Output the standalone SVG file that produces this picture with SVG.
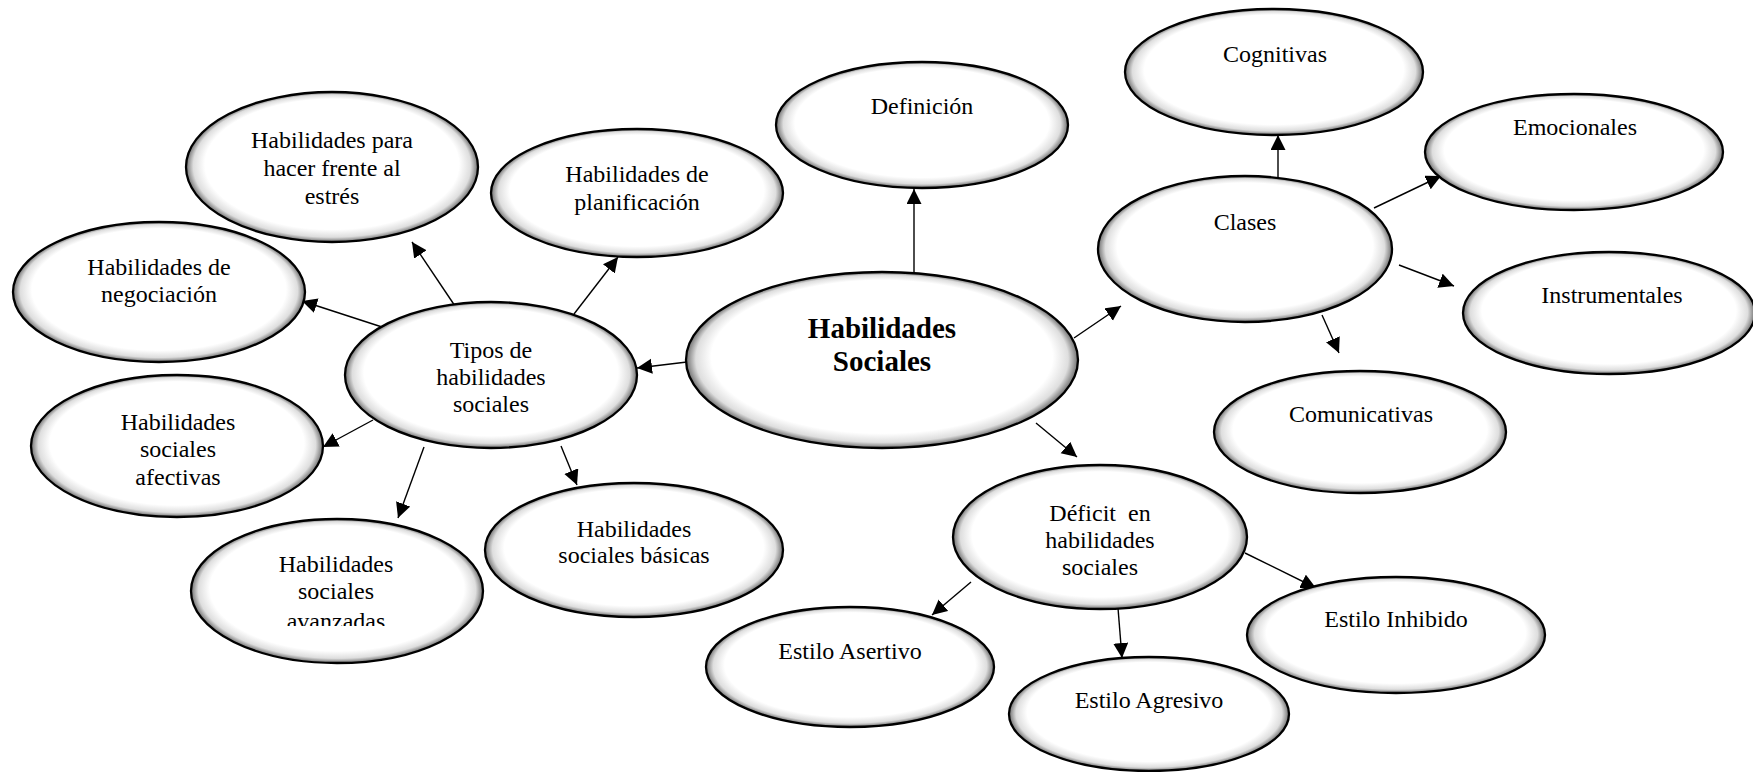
<svg xmlns="http://www.w3.org/2000/svg" width="1753" height="772" viewBox="0 0 1753 772">
<style>
.n{fill:url(#shade);stroke:#000;stroke-width:2.3}
.t{font-family:"Liberation Serif","Times New Roman",serif;font-size:24px;fill:#000;text-anchor:middle;white-space:pre}
.b{font-family:"Liberation Serif","Times New Roman",serif;font-size:29px;font-weight:bold;fill:#000;text-anchor:middle}
.c line{stroke:#000;stroke-width:1.4;marker-end:url(#arr)}
</style>
<defs>
<radialGradient id="shade" cx="50%" cy="50%" r="50%" fx="50%" fy="36%">
<stop offset="0" stop-color="#fff"/>
<stop offset="0.87" stop-color="#fff"/>
<stop offset="0.95" stop-color="#dedede"/>
<stop offset="1" stop-color="#707070"/>
</radialGradient>
<marker id="arr" markerUnits="userSpaceOnUse" markerWidth="16" markerHeight="16" viewBox="0 0 16 16" refX="15" refY="7.5" orient="auto">
<path d="M0,0 L15,7.5 L0,15 z" fill="#000"/>
</marker>
<clipPath id="clipAv"><rect x="180" y="500" width="320" height="126"/></clipPath>
</defs>
<rect width="1753" height="772" fill="#fff"/>
<g id="connectors" class="c">
<line x1="914" y1="273" x2="914" y2="189"/>
<line x1="687" y1="362" x2="637" y2="368"/>
<line x1="455" y1="306" x2="412" y2="242"/>
<line x1="574" y1="314" x2="618" y2="257"/>
<line x1="382" y1="327" x2="302" y2="301"/>
<line x1="373" y1="420" x2="323" y2="447"/>
<line x1="424" y1="447" x2="398" y2="518"/>
<line x1="561" y1="446" x2="577" y2="485"/>
<line x1="1074" y1="338" x2="1121" y2="306"/>
<line x1="1036" y1="423" x2="1077" y2="457"/>
<line x1="1278" y1="177" x2="1278" y2="135"/>
<line x1="1374" y1="208" x2="1441" y2="176"/>
<line x1="1399" y1="265" x2="1454" y2="286"/>
<line x1="1322" y1="315" x2="1339" y2="353"/>
<line x1="971" y1="582" x2="932" y2="615"/>
<line x1="1118" y1="608" x2="1122" y2="658"/>
<line x1="1245" y1="553" x2="1316" y2="588"/>
</g>
<g id="hs"><ellipse class="n" cx="882" cy="360" rx="196" ry="88"/><text class="b" x="882" y="338">Habilidades</text><text class="b" x="882" y="371">Sociales</text></g>
<g id="definicion"><ellipse class="n" cx="922" cy="125" rx="146" ry="63"/><text class="t" x="922" y="114">Definición</text></g>
<g id="tipos"><ellipse class="n" cx="491" cy="375" rx="146" ry="73"/><text class="t" x="491" y="358">Tipos de</text><text class="t" x="491" y="385">habilidades</text><text class="t" x="491" y="412">sociales</text></g>
<g id="estres"><ellipse class="n" cx="332" cy="167" rx="146" ry="75"/><text class="t" x="332" y="148">Habilidades para</text><text class="t" x="332" y="176">hacer frente al</text><text class="t" x="332" y="204">estrés</text></g>
<g id="planificacion"><ellipse class="n" cx="637" cy="193" rx="146" ry="64"/><text class="t" x="637" y="182">Habilidades de</text><text class="t" x="637" y="210">planificación</text></g>
<g id="negociacion"><ellipse class="n" cx="159" cy="292" rx="146" ry="70"/><text class="t" x="159" y="275">Habilidades de</text><text class="t" x="159" y="302">negociación</text></g>
<g id="afectivas"><ellipse class="n" cx="177" cy="446" rx="146" ry="71"/><text class="t" x="178" y="430">Habilidades</text><text class="t" x="178" y="457">sociales</text><text class="t" x="178" y="485">afectivas</text></g>
<g id="avanzadas"><ellipse class="n" cx="337" cy="591" rx="146" ry="72"/><text class="t" x="336" y="572">Habilidades</text><text class="t" x="336" y="599">sociales</text><text class="t" x="336" y="629" clip-path="url(#clipAv)">avanzadas</text></g>
<g id="basicas"><ellipse class="n" cx="634" cy="550" rx="149" ry="67"/><text class="t" x="634" y="537">Habilidades</text><text class="t" x="634" y="563">sociales básicas</text></g>
<g id="clases"><ellipse class="n" cx="1245" cy="249" rx="147" ry="73"/><text class="t" x="1245" y="230">Clases</text></g>
<g id="cognitivas"><ellipse class="n" cx="1274" cy="72" rx="149" ry="63"/><text class="t" x="1275" y="62">Cognitivas</text></g>
<g id="emocionales"><ellipse class="n" cx="1574" cy="152" rx="149" ry="58"/><text class="t" x="1575" y="135">Emocionales</text></g>
<g id="instrumentales"><ellipse class="n" cx="1609" cy="313" rx="146" ry="61"/><text class="t" x="1612" y="303">Instrumentales</text></g>
<g id="comunicativas"><ellipse class="n" cx="1360" cy="432" rx="146" ry="61"/><text class="t" x="1361" y="422">Comunicativas</text></g>
<g id="deficit"><ellipse class="n" cx="1100" cy="537" rx="147" ry="72"/><text class="t" x="1100" y="521">Déficit  en</text><text class="t" x="1100" y="548">habilidades</text><text class="t" x="1100" y="575">sociales</text></g>
<g id="asertivo"><ellipse class="n" cx="850" cy="667" rx="144" ry="60"/><text class="t" x="850" y="659">Estilo Asertivo</text></g>
<g id="agresivo"><ellipse class="n" cx="1149" cy="714" rx="140" ry="57"/><text class="t" x="1149" y="708">Estilo Agresivo</text></g>
<g id="inhibido"><ellipse class="n" cx="1396" cy="635" rx="149" ry="58"/><text class="t" x="1396" y="627">Estilo Inhibido</text></g>
</svg>
